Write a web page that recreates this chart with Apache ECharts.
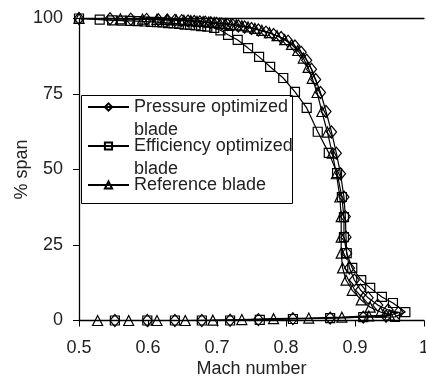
<!DOCTYPE html>
<html>
<head>
<meta charset="utf-8">
<script src="https://cdn.jsdelivr.net/npm/echarts@6/dist/echarts.min.js"></script>
<style>
  html, body { margin: 0; padding: 0; background: #fff; }
  #chart { width: 426px; height: 385px; }
</style>
</head>
<body>
<div id="chart"></div>
<script>
// Mach number (x) and % span (y) per blade
const pressureMach = [0.500, 0.545, 0.575, 0.598, 0.615, 0.628, 0.639, 0.649, 0.658, 0.667, 0.675, 0.683, 0.691, 0.699, 0.707, 0.715, 0.723, 0.731, 0.740, 0.750, 0.760, 0.771, 0.782, 0.793, 0.803, 0.813, 0.822, 0.830, 0.837, 0.843, 0.850, 0.858, 0.866, 0.873, 0.879, 0.884, 0.886, 0.887, 0.888, 0.892, 0.899, 0.908, 0.919, 0.933, 0.948, 0.963,
  0.945, 0.912, 0.864, 0.810, 0.760, 0.719, 0.678, 0.639, 0.599, 0.552];
const pressureSpan = [100, 99.9, 99.8, 99.7, 99.6, 99.5, 99.4, 99.3, 99.2, 99.0, 98.9, 98.8, 98.6, 98.4, 98.2, 98.0, 97.8, 97.5, 97.2, 96.7, 96.2, 95.5, 94.7, 93.7, 92.5, 90.9, 88.8, 86.2, 83.2, 79.8, 75.5, 69.2, 62.4, 55.4, 48.6, 40.9, 34.4, 27.6, 22.3, 17.4, 13.4, 10.1, 7.5, 5.1, 3.5, 2.6,
  1.4, 1.1, 0.8, 0.6, 0.3, 0.1, 0, 0, 0, 0];

const efficiencyMach = [0.500, 0.530, 0.548, 0.562, 0.574, 0.585, 0.595, 0.604, 0.613, 0.621, 0.629, 0.637, 0.645, 0.653, 0.661, 0.669, 0.677, 0.686, 0.696, 0.705, 0.716, 0.730, 0.745, 0.761, 0.777, 0.796, 0.813, 0.830, 0.846, 0.862, 0.874, 0.881, 0.884, 0.884, 0.888, 0.896, 0.909, 0.922, 0.939, 0.955, 0.973,
  0.958, 0.912, 0.864, 0.810, 0.762, 0.719, 0.678, 0.639, 0.599, 0.552];
const efficiencySpan = [100, 99.6, 99.4, 99.3, 99.2, 99.1, 99.0, 98.9, 98.8, 98.7, 98.5, 98.4, 98.2, 98.0, 97.9, 97.7, 97.5, 97.3, 96.9, 96.1, 94.6, 92.9, 90.2, 87.3, 84.0, 80.3, 75.7, 70.4, 62.5, 55.5, 48.8, 40.9, 34.2, 27.6, 22.3, 17.4, 13.4, 10.8, 7.8, 5.8, 2.8,
  1.2, 1.1, 0.8, 0.5, 0.2, 0, 0, 0, 0, 0];

const referenceMach = [0.500, 0.560, 0.592, 0.613, 0.628, 0.641, 0.652, 0.662, 0.671, 0.680, 0.688, 0.696, 0.704, 0.712, 0.720, 0.728, 0.736, 0.745, 0.755, 0.765, 0.776, 0.787, 0.798, 0.808, 0.817, 0.825, 0.832, 0.838, 0.845, 0.852, 0.860, 0.867, 0.873, 0.878, 0.880, 0.880, 0.880, 0.882, 0.887, 0.896, 0.909, 0.922, 0.937, 0.950,
  0.920, 0.881, 0.833, 0.782, 0.736, 0.694, 0.654, 0.613, 0.572, 0.527];
const referenceSpan = [100, 99.9, 99.8, 99.7, 99.6, 99.5, 99.4, 99.3, 99.1, 99.0, 98.8, 98.7, 98.5, 98.3, 98.1, 97.9, 97.6, 97.2, 96.7, 96.1, 95.3, 94.3, 93.0, 91.4, 89.4, 86.9, 83.8, 80.2, 75.5, 69.2, 62.4, 55.4, 48.6, 40.9, 34.4, 27.6, 22.3, 17.4, 13.4, 10.0, 6.8, 4.4, 2.8, 1.8,
  1.5, 1.1, 0.8, 0.6, 0.3, 0.1, 0, 0, 0, 0];

const seriesNames = ['Pressure optimized blade', 'Efficiency optimized blade', 'Reference blade'];
const legendLabels = ['\nPressure optimized\nblade', '\nEfficiency optimized\nblade', '\nReference blade\n'];

const zip = (xs, ys) => xs.map((x, i) => [x, ys[i]]);

const font = '"Liberation Sans", Arial, sans-serif';
const ink = '#222';

const chart = echarts.init(document.getElementById('chart'), null, { renderer: 'canvas' });

const lineSeries = (name, data, symbol, size) => ({
  name: name,
  type: 'line',
  data: data,
  symbol: symbol,
  symbolSize: size,
  showSymbol: true,
  lineStyle: { color: '#000', width: 1.2 },
  itemStyle: { color: 'rgba(0,0,0,0)', borderColor: '#000', borderWidth: 1.2 },
  emphasis: { disabled: true },
});

chart.setOption({
  animation: false,
  grid: { left: 79, right: 2, top: 18.5, bottom: 64.5, containLabel: false, outerBoundsMode: 'none' },
  xAxis: [
    {
      type: 'value',
      min: 0.5,
      max: 1,
      interval: 0.1,
      name: 'Mach number',
      nameLocation: 'middle',
      nameGap: 40,
      nameMoveOverlap: false,
      nameTextStyle: { fontFamily: font, fontSize: 18, color: ink },
      axisLine: { show: true, lineStyle: { color: '#000', width: 1.3 } },
      axisTick: { show: true, inside: false, length: 6, lineStyle: { color: '#000' } },
      axisLabel: {
        margin: 19, fontFamily: font, fontSize: 18, color: ink,
        formatter: v => String(Number(v.toFixed(1))),
      },
      splitLine: { show: false },
    },
    {
      type: 'value',
      position: 'top',
      min: 0.5,
      max: 1,
      axisLine: { show: true, lineStyle: { color: '#000', width: 1.3 } },
      axisTick: { show: false },
      axisLabel: { show: false },
      splitLine: { show: false },
    },
  ],
  yAxis: {
    type: 'value',
    min: 0,
    max: 100,
    interval: 25,
    name: '% span',
    nameLocation: 'middle',
    nameGap: 48,
    nameMoveOverlap: false,
    nameRotate: 90,
    nameTextStyle: { fontFamily: font, fontSize: 18, color: ink },
    axisLine: { show: true, lineStyle: { color: '#000', width: 1.3 } },
    axisTick: { show: true, inside: false, length: 6, lineStyle: { color: '#000' } },
    axisLabel: { margin: 16, fontFamily: font, fontSize: 18, color: ink },
    splitLine: { show: false },
  },
  graphic: [{
    type: 'rect',
    z: 3,
    shape: { x: 81.5, y: 95.5, width: 211, height: 108 },
    style: { fill: '#fff', stroke: '#000', lineWidth: 1 },
  }],
  legend: {
    orient: 'vertical',
    left: 87,
    top: 72.5,
    padding: 0,
    itemGap: -30,
    itemWidth: 41,
    itemHeight: 9,
    z: 5,
    data: seriesNames,
    formatter: name => legendLabels[seriesNames.indexOf(name)],
    textStyle: { fontFamily: font, fontSize: 18, color: ink, lineHeight: 23 },
    selectedMode: false,
  },
  series: [
    lineSeries(seriesNames[0], zip(pressureMach, pressureSpan), 'diamond', [10, 12]),
    lineSeries(seriesNames[1], zip(efficiencyMach, efficiencySpan), 'rect', 9),
    lineSeries(seriesNames[2], zip(referenceMach, referenceSpan), 'triangle', 10),
  ],
});
</script>
</body>
</html>
